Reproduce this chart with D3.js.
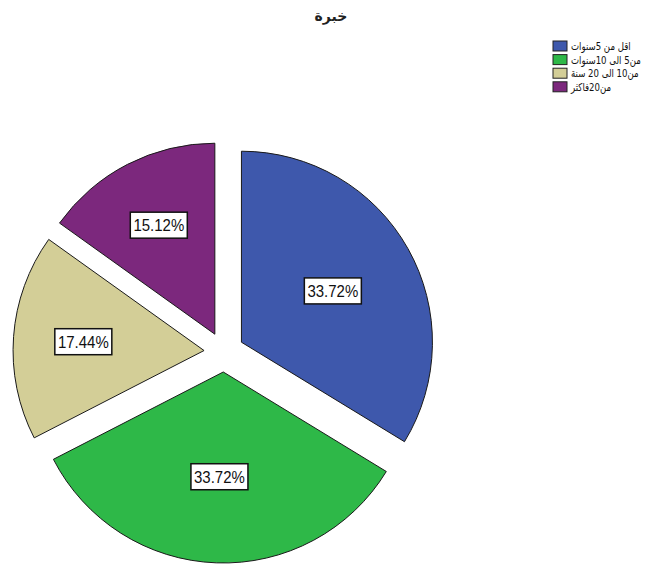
<!DOCTYPE html>
<html>
<head>
<meta charset="utf-8">
<script src="https://cdn.jsdelivr.net/npm/d3@7"></script>
<style>
  html, body { margin: 0; padding: 0; background: #fff; }
  svg { display: block; }
</style>
</head>
<body>
<svg id="chart" width="664" height="565"></svg>
<script>
// Experience groups (years) and respondent counts
const categories = ["اقل من 5سنوات", "من5 الى 10سنوات", "من10 الى 20 سنة", "من20فاكثر"];
const counts = [29, 29, 15, 13];
const colors = ["#3E58AC", "#2EB848", "#D3CE97", "#7C287D"];
const title = "خبرة";

const W = 664, H = 565;
const svg = d3.select("#chart");

const total = d3.sum(counts);
const percents = counts.map(c => c / total * 100);
const fmt = d => d3.format(".2f")(d) + "%";

// Pie geometry
const cx = 224, cy = 352, radius = 191, explode = 20;

const pie = d3.pie().sort(null).value(d => d.value);
const arcs = pie(categories.map((c, i) => ({ name: c, value: counts[i], pct: percents[i], color: colors[i] })));
const arc = d3.arc().innerRadius(0).outerRadius(radius);

const g = svg.append("g").attr("transform", `translate(${cx},${cy})`);

const slice = g.selectAll("g.slice")
  .data(arcs)
  .join("g")
  .attr("class", "slice")
  .attr("transform", d => {
    const a = (d.startAngle + d.endAngle) / 2;
    return `translate(${explode * Math.sin(a)},${-explode * Math.cos(a)})`;
  });

slice.append("path")
  .attr("d", arc)
  .attr("fill", d => d.data.color)
  .attr("stroke", "#1a1a1a")
  .attr("stroke-width", 1)
  .attr("stroke-linejoin", "miter");

// Labels sit at each sector's area centroid
slice.each(function (d) {
  const half = (d.endAngle - d.startAngle) / 2;
  const mid = d.startAngle + half;
  const dist = 2 * radius * Math.sin(half) / (3 * half);
  const x = dist * Math.sin(mid), y = -dist * Math.cos(mid);
  const lg = d3.select(this).append("g").attr("transform", `translate(${x},${y})`);
  lg.append("rect")
    .attr("x", -28.5).attr("y", -13)
    .attr("width", 57).attr("height", 26)
    .attr("fill", "#fff")
    .attr("stroke", "#111")
    .attr("stroke-width", 1.5);
  lg.append("text")
    .attr("transform", "scale(1,1.15)")
    .attr("text-anchor", "middle")
    .attr("y", 5.2)
    .attr("font-family", "Liberation Sans, Arial, sans-serif")
    .attr("font-size", 15)
    .attr("fill", "#111")
    .text(fmt(d.data.pct));
});

// Title
svg.append("text")
  .attr("x", 331).attr("y", 21)
  .attr("text-anchor", "middle")
  .attr("font-family", "DejaVu Sans, sans-serif")
  .attr("font-weight", "bold")
  .attr("font-size", 14)
  .attr("fill", "#222")
  .text(title);

// Legend: swatch with its label beside it (condensed to fit the margin)
const legend = svg.append("g").attr("transform", "translate(553,41)");
const rows = legend.selectAll("g")
  .data(categories)
  .join("g")
  .attr("transform", (d, i) => `translate(0,${i * 13.6})`);
rows.append("rect")
  .attr("width", 14).attr("height", 10)
  .attr("fill", (d, i) => colors[i])
  .attr("stroke", "#222").attr("stroke-width", 1);
rows.append("text")
  .attr("transform", "translate(18,9) scale(0.78,1)")
  .attr("font-family", "DejaVu Sans, sans-serif")
  .attr("font-size", 11)
  .attr("fill", "#111")
  .text(d => d);
</script>
</body>
</html>
